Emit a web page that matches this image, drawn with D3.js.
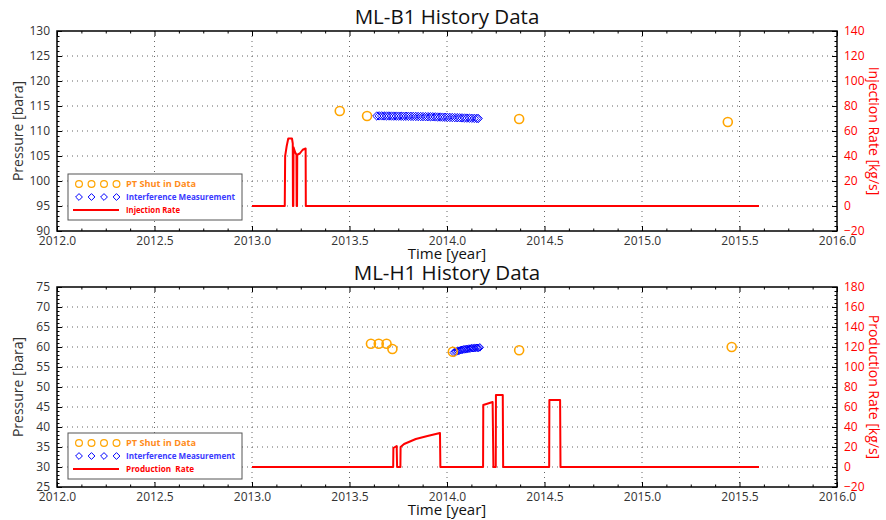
<!DOCTYPE html>
<html>
<head>
<meta charset="utf-8">
<script src="https://cdn.jsdelivr.net/npm/d3@7/dist/d3.min.js"></script>
<style>
  body { margin: 0; background: #fff; }
  svg { display: block; }
  text { font-family: "Open Sans", sans-serif; }
</style>
</head>
<body>
<svg id="chart" width="886" height="520"></svg>
<script>
// ---------------- DATA ----------------
const xTickYears = [2012.0, 2012.5, 2013.0, 2013.5, 2014.0, 2014.5, 2015.0, 2015.5, 2016.0];

// ML-B1 (top)
const b1Title = "ML-B1 History Data";
const b1PressureTicks = [90, 95, 100, 105, 110, 115, 120, 125, 130];
const b1RateTicks = [-20, 0, 20, 40, 60, 80, 100, 120, 140];
const b1ShutYears = [2013.45, 2013.59, 2014.37, 2015.44];
const b1ShutBara  = [114.0, 113.0, 112.4, 111.8];
const b1IntYears = [2013.640, 2013.652, 2013.665, 2013.677, 2013.690, 2013.702, 2013.715, 2013.727, 2013.740, 2013.752,
                    2013.765, 2013.777, 2013.790, 2013.802, 2013.815, 2013.827, 2013.840, 2013.852, 2013.865, 2013.877,
                    2013.890, 2013.902, 2013.915, 2013.927, 2013.940, 2013.952, 2013.965, 2013.977, 2013.990, 2014.002,
                    2014.015, 2014.027, 2014.040, 2014.052, 2014.065, 2014.077, 2014.090, 2014.102, 2014.115, 2014.127,
                    2014.140, 2014.152, 2014.160];
const b1IntBara  = [113.00, 113.02, 113.02, 113.01, 113.00, 113.00, 112.99, 112.98, 112.98, 112.97,
                    112.96, 112.95, 112.95, 112.94, 112.93, 112.92, 112.91, 112.90, 112.89, 112.88,
                    112.87, 112.86, 112.85, 112.84, 112.82, 112.80, 112.79, 112.77, 112.75, 112.73,
                    112.71, 112.70, 112.68, 112.66, 112.64, 112.62, 112.60, 112.58, 112.56, 112.55,
                    112.53, 112.52, 112.50];
const b1RateYears = [2013.000, 2013.168, 2013.170, 2013.178, 2013.186, 2013.205, 2013.209, 2013.210, 2013.212, 2013.213,
                     2013.221, 2013.228, 2013.229, 2013.231, 2013.232, 2013.245, 2013.260, 2013.275, 2013.276, 2015.600];
const b1RateKgs   = [0, 0, 40, 48, 54, 54, 50, 0, 0, 47,
                     43, 41, 0, 0, 41, 42, 45, 46, 0, 0];

// ML-H1 (bottom)
const h1Title = "ML-H1 History Data";
const h1PressureTicks = [25, 30, 35, 40, 45, 50, 55, 60, 65, 70, 75];
const h1RateTicks = [-20, 0, 20, 40, 60, 80, 100, 120, 140, 160, 180];
const h1ShutYears = [2013.61, 2013.65, 2013.69, 2013.72, 2014.03, 2014.37, 2015.46];
const h1ShutBara  = [60.8, 60.8, 60.8, 59.5, 58.8, 59.2, 60.0];
const h1IntYears = [2014.035, 2014.042, 2014.049, 2014.056, 2014.063, 2014.070, 2014.077, 2014.084, 2014.091, 2014.098,
                    2014.105, 2014.112, 2014.119, 2014.126, 2014.133, 2014.140, 2014.147, 2014.154, 2014.161, 2014.168];
const h1IntBara  = [58.6, 58.8, 58.9, 59.0, 59.1, 59.2, 59.3, 59.4, 59.4, 59.5,
                    59.5, 59.6, 59.6, 59.7, 59.7, 59.7, 59.8, 59.8, 59.8, 59.9];
const h1RateYears = [2013.000, 2013.724, 2013.725, 2013.742, 2013.744, 2013.761, 2013.762, 2013.780, 2013.840, 2013.900,
                     2013.964, 2013.966, 2014.185, 2014.186, 2014.234, 2014.238, 2014.250, 2014.251, 2014.286, 2014.288,
                     2014.524, 2014.525, 2014.580, 2014.582, 2015.600];
const h1RateKgs   = [0, 0, 19, 21, 0, 0, 20, 23, 28, 31,
                     34, 0, 0, 62, 65, 0, 0, 72, 72, 0,
                     0, 67, 67, 0, 0];

// ---------------- DRAW ----------------
const svg = d3.select("#chart");
const RED = "#ff0000", ORANGE = "#ffa500", BLUE = "#0000ff", TXT = "#333";
const X0 = 57, X1 = 837;

// matplotlib-style diamond: a square rotated 45 degrees
const diamondPath = (hw, hh) => `M0,${-hh}L${hw},0L0,${hh}L${-hw},0Z`;

function panel(o) {
  const g = svg.append("g");
  const x = d3.scaleLinear().domain([2012, 2016]).range([X0, X1]);
  const yL = d3.scaleLinear().domain(o.pDomain).range([o.bottom, o.top]);
  const yR = d3.scaleLinear().domain(o.rDomain).range([o.bottom, o.top]);

  // grid
  const grid = g.append("g").attr("stroke", "#666").attr("stroke-width", 1).attr("stroke-dasharray", "1,4");
  xTickYears.slice(1, -1).forEach(t => grid.append("line")
    .attr("x1", x(t)).attr("x2", x(t)).attr("y1", o.top).attr("y2", o.bottom));
  o.pTicks.slice(1, -1).forEach(t => grid.append("line")
    .attr("x1", X0).attr("x2", X1).attr("y1", yL(t)).attr("y2", yL(t)));

  // rate line
  const rate = o.rateYears.map((t, i) => [t, o.rateKgs[i]]);
  g.append("path").datum(rate)
    .attr("fill", "none").attr("stroke", RED).attr("stroke-width", 2).attr("stroke-linejoin", "round")
    .attr("d", d3.line().x(d => x(d[0])).y(d => yR(d[1])));

  // interference diamonds
  g.append("g").selectAll("path").data(o.intYears.map((t, i) => [t, o.intBara[i]])).join("path")
    .attr("transform", d => `translate(${x(d[0])},${yL(d[1])})`)
    .attr("d", diamondPath(o.dia, o.dia)).attr("fill", "none").attr("stroke", BLUE).attr("stroke-width", 1);

  // shut-in circles
  g.append("g").selectAll("circle").data(o.shutYears.map((t, i) => [t, o.shutBara[i]])).join("circle")
    .attr("cx", d => x(d[0])).attr("cy", d => yL(d[1])).attr("r", 4.5)
    .attr("fill", "none").attr("stroke", ORANGE).attr("stroke-width", 1.6);

  // axes
  const styleAxis = sel => { sel.select(".domain").remove();
    sel.selectAll(".tick line").attr("stroke", "#000").attr("stroke-width", 1);
    sel.selectAll("text").attr("font-size", 12).attr("fill", TXT); };

  const xMinor = d3.range(2012, 2016.0001, 0.125).filter(v => Math.abs(v * 2 - Math.round(v * 2)) > 1e-6);
  g.append("g").attr("transform", `translate(0,${o.bottom})`)
    .call(d3.axisBottom(x).tickValues(xTickYears).tickFormat(d3.format(".1f")).tickSizeInner(-5).tickSizeOuter(0).tickPadding(5))
    .call(styleAxis);
  g.append("g").attr("transform", `translate(0,${o.bottom})`)
    .call(d3.axisBottom(x).tickValues(xMinor).tickFormat("").tickSizeInner(-2.5).tickSizeOuter(0)).call(styleAxis);
  g.append("g").attr("transform", `translate(0,${o.top})`)
    .call(d3.axisTop(x).tickValues(xTickYears).tickFormat("").tickSizeInner(-5).tickSizeOuter(0)).call(styleAxis);
  g.append("g").attr("transform", `translate(0,${o.top})`)
    .call(d3.axisTop(x).tickValues(xMinor).tickFormat("").tickSizeInner(-2.5).tickSizeOuter(0)).call(styleAxis);

  const pMinor = d3.range(o.pDomain[0], o.pDomain[1] + 0.001, 1).filter(v => v % 5 !== 0);
  g.append("g").attr("transform", `translate(${X0},0)`)
    .call(d3.axisLeft(yL).tickValues(o.pTicks).tickFormat(d3.format("d")).tickSizeInner(-5).tickSizeOuter(0).tickPadding(7))
    .call(styleAxis);
  g.append("g").attr("transform", `translate(${X0},0)`)
    .call(d3.axisLeft(yL).tickValues(pMinor).tickFormat("").tickSizeInner(-2.5).tickSizeOuter(0)).call(styleAxis);

  const rMinor = d3.range(o.rDomain[0], o.rDomain[1] + 0.001, 4).filter(v => v % 20 !== 0);
  g.append("g").attr("transform", `translate(${X1},0)`)
    .call(d3.axisRight(yR).tickValues(o.rTicks).tickFormat(d => d < 0 ? "\u2212" + Math.abs(d) : d).tickSizeInner(-5).tickSizeOuter(0).tickPadding(7))
    .call(styleAxis).call(s => s.selectAll("text").attr("fill", RED));
  g.append("g").attr("transform", `translate(${X1},0)`)
    .call(d3.axisRight(yR).tickValues(rMinor).tickFormat("").tickSizeInner(-2.5).tickSizeOuter(0)).call(styleAxis);

  // frame
  g.append("rect").attr("x", X0).attr("y", o.top).attr("width", X1 - X0).attr("height", o.bottom - o.top)
    .attr("fill", "none").attr("stroke", "#000").attr("stroke-width", 1.5);

  // titles & labels
  g.append("text").attr("x", (X0 + X1) / 2).attr("y", o.top - 7).attr("text-anchor", "middle")
    .attr("font-size", 20.5).attr("fill", "#111").text(o.title);
  g.append("text").attr("x", (X0 + X1) / 2).attr("y", o.bottom + 28).attr("text-anchor", "middle")
    .attr("font-size", 15).attr("fill", "#111").text("Time [year]");
  const cy = (o.top + o.bottom) / 2;
  g.append("text").attr("transform", `translate(23,${cy}) rotate(-90)`).attr("text-anchor", "middle")
    .attr("font-size", 14).attr("fill", TXT).text("Pressure [bara]");
  g.append("text").attr("transform", `translate(869,${cy}) rotate(90)`).attr("text-anchor", "middle")
    .attr("font-size", 14).attr("fill", RED).text(o.rateLabel);

  // legend
  const L = o.legend;
  const lg = g.append("g");
  lg.append("rect").attr("x", 68).attr("y", L.y).attr("width", 174).attr("height", 46)
    .attr("fill", "#fff").attr("stroke", "#555").attr("stroke-width", 1);
  const rows = [L.y + 10, L.y + 23, L.y + 36];
  const mx = [79, 91.5, 104, 116.5];
  mx.forEach(v => lg.append("circle").attr("cx", v).attr("cy", rows[0]).attr("r", 3.4)
    .attr("fill", "none").attr("stroke", ORANGE).attr("stroke-width", 1.2));
  mx.forEach(v => lg.append("path").attr("transform", `translate(${v},${rows[1]})`)
    .attr("d", diamondPath(3.4, 3.4)).attr("fill", "none").attr("stroke", BLUE).attr("stroke-width", 1));
  lg.append("line").attr("x1", 73).attr("x2", 119).attr("y1", rows[2]).attr("y2", rows[2])
    .attr("stroke", RED).attr("stroke-width", 2);
  const labels = [["PT Shut in Data", "#ff8c1a", 70], ["Interference Measurement", "#3a3aff", 109], [o.rateLegend, RED, o.rateLegendLen]];
  labels.forEach((d, i) => lg.append("text").attr("x", 126).attr("y", rows[i] + 3.2)
    .attr("font-family", "Lato, sans-serif").attr("font-weight", "bold").attr("font-size", 9.5)
    .attr("textLength", d[2]).attr("lengthAdjust", "spacingAndGlyphs")
    .attr("fill", d[1]).attr("xml:space", "preserve").style("white-space", "pre").text(d[0]));
}

panel({
  title: b1Title, top: 31, bottom: 231, pDomain: [90, 130], rDomain: [-20, 140],
  pTicks: b1PressureTicks, rTicks: b1RateTicks,
  shutYears: b1ShutYears, shutBara: b1ShutBara, intYears: b1IntYears, intBara: b1IntBara,
  rateYears: b1RateYears, rateKgs: b1RateKgs, dia: 4.2,
  rateLabel: "Injection Rate [kg/s]", rateLegend: "Injection Rate", rateLegendLen: 54,
  legend: { y: 174 }
});
panel({
  title: h1Title, top: 287, bottom: 487, pDomain: [25, 75], rDomain: [-20, 180],
  pTicks: h1PressureTicks, rTicks: h1RateTicks,
  shutYears: h1ShutYears, shutBara: h1ShutBara, intYears: h1IntYears, intBara: h1IntBara,
  rateYears: h1RateYears, rateKgs: h1RateKgs, dia: 3.8,
  rateLabel: "Production Rate [kg/s]", rateLegend: "Production  Rate", rateLegendLen: 68,
  legend: { y: 433 }
});
</script>
</body>
</html>
